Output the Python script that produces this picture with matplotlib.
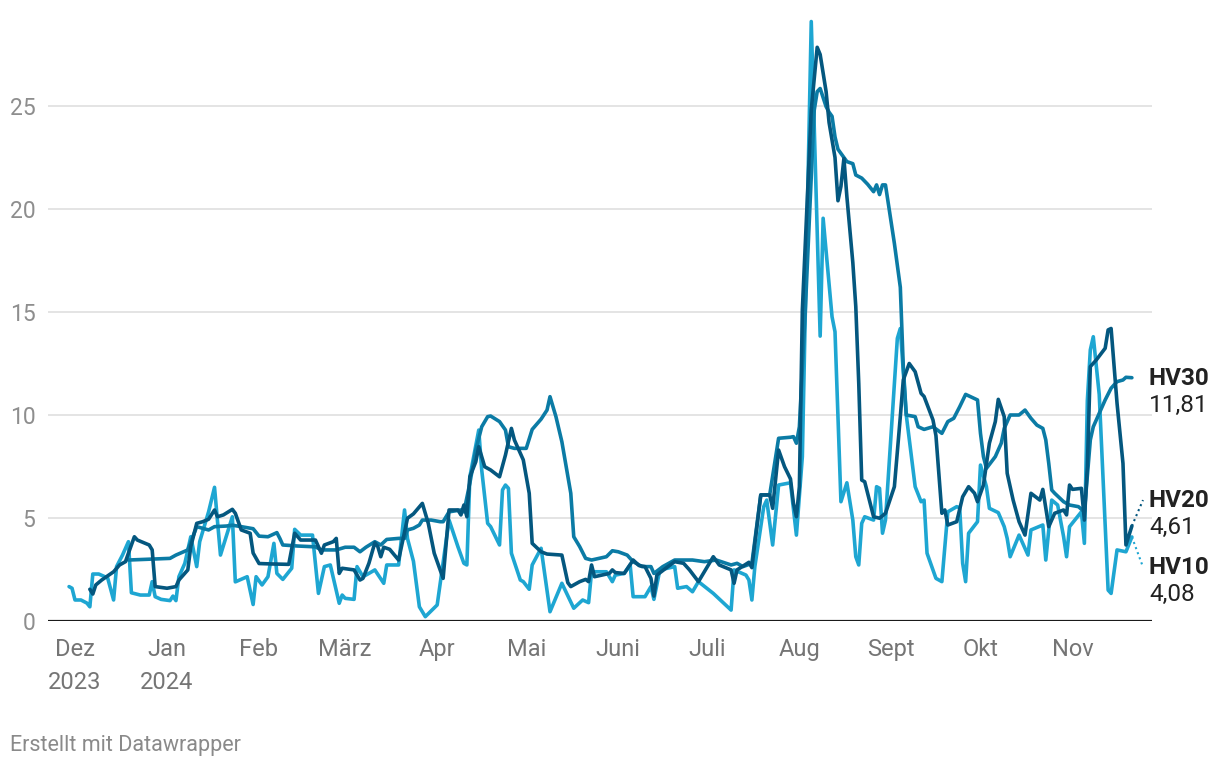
import matplotlib
matplotlib.use("Agg")
import matplotlib.pyplot as plt
import matplotlib.transforms as mtrans
import pandas as pd

plt.rcParams['font.family'] = ['Roboto', 'DejaVu Sans']

# ---------------- data ----------------
hv10_dates = ["2023-11-29","2023-11-30","2023-12-01","2023-12-03","2023-12-05","2023-12-06","2023-12-07","2023-12-09",
"2023-12-12","2023-12-14","2023-12-15","2023-12-17","2023-12-19","2023-12-20","2023-12-23","2023-12-26","2023-12-27",
"2023-12-28","2023-12-30","2024-01-02","2024-01-03","2024-01-04","2024-01-05","2024-01-07","2024-01-09","2024-01-11",
"2024-01-12","2024-01-15","2024-01-17","2024-01-19","2024-01-23","2024-01-24","2024-01-28","2024-01-30","2024-01-31",
"2024-02-02","2024-02-04","2024-02-06","2024-02-07","2024-02-09","2024-02-12","2024-02-13","2024-02-15","2024-02-19",
"2024-02-21","2024-02-23","2024-02-25","2024-02-28","2024-02-29","2024-03-01","2024-03-04","2024-03-05","2024-03-07",
"2024-03-09","2024-03-11","2024-03-14","2024-03-15","2024-03-19","2024-03-21","2024-03-22","2024-03-24","2024-03-26",
"2024-03-28","2024-04-01","2024-04-05","2024-04-08","2024-04-10","2024-04-11","2024-04-12","2024-04-15","2024-04-16",
"2024-04-18","2024-04-19","2024-04-22","2024-04-23","2024-04-24","2024-04-25","2024-04-26","2024-04-29","2024-04-30",
"2024-05-02","2024-05-03","2024-05-06","2024-05-09","2024-05-13","2024-05-17","2024-05-20","2024-05-22","2024-05-23",
"2024-05-28","2024-05-30","2024-05-31","2024-06-03","2024-06-05","2024-06-06","2024-06-10","2024-06-12","2024-06-13",
"2024-06-15","2024-06-20","2024-06-21","2024-06-24","2024-06-26","2024-06-28","2024-07-03","2024-07-09","2024-07-10",
"2024-07-14","2024-07-15","2024-07-16","2024-07-17","2024-07-20","2024-07-21","2024-07-23","2024-07-25","2024-07-29",
"2024-07-31","2024-08-02","2024-08-05","2024-08-08","2024-08-09","2024-08-12","2024-08-13","2024-08-15","2024-08-17",
"2024-08-19","2024-08-20","2024-08-21","2024-08-22","2024-08-23","2024-08-26","2024-08-27","2024-08-28","2024-08-29",
"2024-08-30","2024-09-03","2024-09-04","2024-09-06","2024-09-09","2024-09-11","2024-09-12","2024-09-13","2024-09-16",
"2024-09-18","2024-09-20","2024-09-23","2024-09-24","2024-09-25","2024-09-26","2024-09-27","2024-09-30","2024-10-01",
"2024-10-03","2024-10-04","2024-10-07","2024-10-09","2024-10-10","2024-10-11","2024-10-14","2024-10-17","2024-10-18",
"2024-10-22","2024-10-23","2024-10-25","2024-10-27","2024-10-29","2024-10-30","2024-10-31","2024-11-04","2024-11-05",
"2024-11-06","2024-11-07","2024-11-08","2024-11-10","2024-11-13","2024-11-14","2024-11-16","2024-11-19","2024-11-21"]
hv10_values = [1.67,1.59,1.02,1.02,0.87,0.69,2.28,2.28,
2.09,1.02,2.64,3.2,3.85,1.37,1.26,1.26,1.91,
1.18,1.05,0.99,1.21,0.99,2.15,2.8,4.09,2.64,
3.85,5.3,6.49,3.2,5.06,1.9,2.15,0.8,2.15,
1.75,2.15,3.77,2.31,2.02,2.56,4.45,4.17,4.17,
1.34,2.64,2.72,0.86,1.26,1.1,1.05,2.64,2.15,
2.31,2.48,1.83,2.72,2.72,5.39,4.0,2.9,0.69,
0.21,0.78,4.9,3.6,2.8,2.72,7.0,9.27,7.33,
4.74,4.58,3.69,6.36,6.6,6.44,3.29,1.99,1.91,
1.54,2.72,3.53,0.45,1.83,0.62,1.02,0.89,2.39,
2.39,1.91,2.23,2.31,2.72,1.18,1.18,1.67,1.05,
2.48,2.64,1.59,1.67,1.42,1.91,1.34,0.53,2.48,
2.23,1.99,1.02,2.64,5.55,5.87,3.69,6.6,6.71,
4.17,7.98,29.1,13.83,19.55,14.77,14.04,5.79,6.71,
4.9,3.12,2.72,4.74,5.06,4.9,6.52,6.44,4.26,
4.9,13.72,14.2,10.0,6.52,5.79,5.87,3.29,2.07,
1.91,5.3,5.55,5.5,2.8,1.91,4.26,4.82,7.57,
6.52,5.47,5.26,4.58,4.01,3.12,4.17,3.2,4.42,
4.66,2.96,5.87,5.63,4.09,3.12,4.58,5.3,3.77,
10.7,13.16,13.8,11.0,1.5,1.34,3.45,3.36,4.08]

hv20_dates = ["2023-12-06","2023-12-07","2023-12-08","2023-12-10","2023-12-14","2023-12-16","2023-12-18","2023-12-19",
"2023-12-21","2023-12-22","2023-12-26","2023-12-27","2023-12-28","2024-01-01","2024-01-04","2024-01-05","2024-01-08",
"2024-01-09","2024-01-11","2024-01-13","2024-01-15","2024-01-17","2024-01-18","2024-01-20","2024-01-23","2024-01-24",
"2024-01-26","2024-01-29","2024-01-30","2024-02-01","2024-02-05","2024-02-11","2024-02-13","2024-02-15","2024-02-20",
"2024-02-22","2024-02-23","2024-02-26","2024-02-27","2024-02-28","2024-02-29","2024-03-04","2024-03-06","2024-03-07",
"2024-03-09","2024-03-11","2024-03-12","2024-03-13","2024-03-14","2024-03-16","2024-03-19","2024-03-22","2024-03-24",
"2024-03-27","2024-03-29","2024-03-31","2024-04-03","2024-04-05","2024-04-08","2024-04-09","2024-04-10","2024-04-11",
"2024-04-12","2024-04-14","2024-04-15","2024-04-17","2024-04-19","2024-04-22","2024-04-24","2024-04-26","2024-04-27",
"2024-04-30","2024-05-02","2024-05-03","2024-05-06","2024-05-08","2024-05-13","2024-05-15","2024-05-16","2024-05-19",
"2024-05-21","2024-05-22","2024-05-23","2024-05-24","2024-05-29","2024-05-30","2024-05-31","2024-06-03","2024-06-06",
"2024-06-08","2024-06-10","2024-06-12","2024-06-13","2024-06-14","2024-06-17","2024-06-20","2024-06-23","2024-06-25",
"2024-06-28","2024-07-03","2024-07-05","2024-07-09","2024-07-10","2024-07-11","2024-07-15","2024-07-16","2024-07-19",
"2024-07-22","2024-07-23","2024-07-25","2024-07-27","2024-07-29","2024-07-30","2024-07-31","2024-08-01","2024-08-02",
"2024-08-05","2024-08-07","2024-08-08","2024-08-10","2024-08-11","2024-08-13","2024-08-14","2024-08-15","2024-08-16",
"2024-08-17","2024-08-19","2024-08-20","2024-08-21","2024-08-22","2024-08-23","2024-08-26","2024-08-28","2024-08-30",
"2024-09-02","2024-09-04","2024-09-05","2024-09-07","2024-09-09","2024-09-11","2024-09-12","2024-09-15","2024-09-16",
"2024-09-18","2024-09-19","2024-09-20","2024-09-23","2024-09-25","2024-09-27","2024-09-29","2024-09-30","2024-10-02",
"2024-10-04","2024-10-06","2024-10-07","2024-10-09","2024-10-10","2024-10-12","2024-10-14","2024-10-16","2024-10-18",
"2024-10-21","2024-10-22","2024-10-24","2024-10-26","2024-10-29","2024-10-30","2024-10-31","2024-11-01","2024-11-04",
"2024-11-05","2024-11-06","2024-11-07","2024-11-09","2024-11-12","2024-11-13","2024-11-14","2024-11-16","2024-11-18",
"2024-11-19","2024-11-21"]
hv20_values = [1.54,1.31,1.75,1.99,2.39,2.72,2.88,3.29,
4.09,3.93,3.69,3.45,1.67,1.59,1.67,1.99,2.48,
3.61,4.74,4.82,4.94,5.39,5.06,5.15,5.42,5.23,
4.42,4.26,3.3,2.79,2.77,2.75,4.26,3.93,3.93,
3.29,3.69,3.85,4.01,2.31,2.56,2.48,1.99,2.07,
2.8,3.8,3.61,3.12,3.58,3.48,2.96,4.99,5.2,
5.71,4.74,3.29,2.07,5.39,5.39,5.15,5.63,5.06,
7.0,7.73,8.46,7.49,7.33,7.0,8.06,9.35,8.79,
7.82,6.2,3.77,3.36,3.25,3.2,1.86,1.67,1.91,
2.02,1.91,2.72,2.15,2.31,2.48,2.35,2.31,2.96,
2.69,2.64,2.07,1.21,2.23,2.56,2.88,2.8,2.48,
1.91,3.12,2.72,2.48,1.83,2.48,2.85,2.59,6.12,
6.12,5.47,8.3,7.49,6.9,5.71,5.06,6.52,15.1,
24.8,27.85,27.5,25.7,24.2,22.5,20.4,21.1,22.45,
20.6,17.4,15.26,11.54,6.84,6.76,5.06,4.99,5.23,
6.52,9.92,11.7,12.5,12.1,11.05,10.9,9.76,9.0,
5.23,5.39,4.66,4.82,6.03,6.52,6.2,5.79,6.6,
8.63,9.68,10.76,9.92,7.17,5.87,4.82,4.17,6.2,
5.87,6.39,4.58,5.23,5.39,5.15,6.6,6.39,6.44,
4.9,7.49,12.35,12.67,13.24,14.13,14.2,10.57,7.65,
3.69,4.61]

hv30_dates = ["2023-12-19","2024-01-02","2024-01-04","2024-01-08","2024-01-11","2024-01-15","2024-01-17","2024-01-21",
"2024-01-23","2024-01-26","2024-01-30","2024-02-01","2024-02-04","2024-02-07","2024-02-08","2024-02-09","2024-02-14",
"2024-02-20","2024-02-22","2024-02-27","2024-03-01","2024-03-04","2024-03-06","2024-03-08","2024-03-11","2024-03-13",
"2024-03-15","2024-03-19","2024-03-21","2024-03-22","2024-03-24","2024-03-26","2024-03-27","2024-03-30","2024-04-02",
"2024-04-03","2024-04-05","2024-04-09","2024-04-10","2024-04-12","2024-04-14","2024-04-16","2024-04-18","2024-04-19",
"2024-04-22","2024-04-24","2024-04-25","2024-04-27","2024-05-01","2024-05-03","2024-05-06","2024-05-08","2024-05-09",
"2024-05-11","2024-05-13","2024-05-16","2024-05-17","2024-05-19","2024-05-21","2024-05-23","2024-05-28","2024-05-30",
"2024-06-01","2024-06-04","2024-06-06","2024-06-09","2024-06-12","2024-06-13","2024-06-16","2024-06-20","2024-06-26",
"2024-06-30","2024-07-04","2024-07-09","2024-07-11","2024-07-13","2024-07-16","2024-07-19","2024-07-22","2024-07-25",
"2024-07-29","2024-07-30","2024-07-31","2024-08-01","2024-08-03","2024-08-06","2024-08-07","2024-08-08","2024-08-10",
"2024-08-11","2024-08-12","2024-08-13","2024-08-14","2024-08-16","2024-08-17","2024-08-19","2024-08-20","2024-08-22",
"2024-08-24","2024-08-26","2024-08-27","2024-08-28","2024-08-29","2024-08-30","2024-09-02","2024-09-04","2024-09-05",
"2024-09-06","2024-09-09","2024-09-10","2024-09-12","2024-09-15","2024-09-18","2024-09-20","2024-09-22","2024-09-24",
"2024-09-26","2024-09-30","2024-10-01","2024-10-02","2024-10-03","2024-10-06","2024-10-08","2024-10-09","2024-10-11",
"2024-10-14","2024-10-16","2024-10-18","2024-10-20","2024-10-22","2024-10-23","2024-10-24","2024-10-25","2024-10-26",
"2024-10-29","2024-10-31","2024-11-03","2024-11-05","2024-11-07","2024-11-08","2024-11-10","2024-11-12","2024-11-14",
"2024-11-16","2024-11-18","2024-11-19","2024-11-21"]
hv30_values = [2.96,3.04,3.2,3.45,4.58,4.42,4.58,4.61,
4.65,4.58,4.48,4.12,4.09,4.29,4.01,3.69,3.64,
3.6,3.45,3.45,3.58,3.58,3.36,3.58,3.85,3.69,
3.96,4.01,4.01,4.42,4.5,4.66,4.9,4.9,4.82,
4.82,5.3,5.39,5.3,6.69,8.3,9.43,9.92,9.95,
9.68,9.27,8.46,8.38,8.38,9.3,9.8,10.24,10.89,
9.92,8.7,6.2,4.09,3.61,3.04,2.96,3.12,3.41,
3.36,3.2,2.88,2.64,2.64,2.31,2.64,2.96,2.96,
2.88,2.96,2.72,2.8,2.64,2.8,6.12,6.12,8.87,
8.92,8.95,8.63,9.43,15.1,24.8,25.7,25.85,24.97,
24.7,24.5,23.5,22.9,22.5,22.3,22.2,21.65,21.5,
21.2,20.84,21.17,20.7,21.17,21.17,18.33,16.2,12.35,
10.0,9.92,9.43,9.3,9.43,9.11,9.68,9.84,10.4,
11.0,10.73,9.11,7.98,7.41,7.98,8.63,9.35,10.0,
10.0,10.24,9.84,9.51,9.35,8.79,7.65,6.36,6.2,
5.79,5.63,5.55,5.3,8.79,9.43,10.08,10.73,11.3,
11.62,11.7,11.83,11.81]

series_names = ["HV10", "HV20", "HV30"]
series_colors = {"HV10": "#1ea6d2", "HV20": "#04577f", "HV30": "#0b7ba5"}
series_z = {"HV10": 3, "HV20": 5, "HV30": 4}
label_values = {"HV10": "4,08", "HV20": "4,61", "HV30": "11,81"}
label_y = {"HV10": 2.62, "HV20": 5.87, "HV30": 11.76}   # label anchor heights
month_ticks = ["2023-12-01","2024-01-01","2024-02-01","2024-03-01","2024-04-01","2024-05-01",
               "2024-06-01","2024-07-01","2024-08-01","2024-09-01","2024-10-01","2024-11-01"]
month_labels = ["Dez\n2023","Jan\n2024","Feb","März","Apr","Mai","Juni","Juli","Aug","Sept","Okt","Nov"]
y_ticks = [0, 5, 10, 15, 20, 25]

data = {
    "HV10": (pd.to_datetime(hv10_dates), hv10_values),
    "HV20": (pd.to_datetime(hv20_dates), hv20_values),
    "HV30": (pd.to_datetime(hv30_dates), hv30_values),
}

# ---------------- figure ----------------
W, H = 1220, 768
fig = plt.figure(figsize=(W / 100, H / 100), dpi=100)
ax_l, ax_r, ax_b, ax_t = 48, 1152, 621, 10
ax = fig.add_axes([ax_l / W, (H - ax_b) / H, (ax_r - ax_l) / W, (ax_b - ax_t) / H])

px_per_day = 2.969
x0 = pd.Timestamp("2023-12-01") - pd.Timedelta(days=(75 - ax_l) / px_per_day)
x1 = pd.Timestamp("2024-11-01") + pd.Timedelta(days=(ax_r - 1072.5) / px_per_day)
ax.set_xlim(x0, x1)
ax.set_ylim(0, (ax_b - ax_t) / 20.6)

for s in ax.spines.values():
    s.set_visible(False)

ax.set_yticks(y_ticks)
ax.set_yticklabels([str(v) for v in y_ticks])
ax.yaxis.grid(True, color="#e2e2e2", linewidth=1.3, zorder=0)
ax.set_axisbelow(True)
ax.tick_params(axis="y", length=0, pad=9, labelsize=16.5, labelcolor="#8e8e8e")
ax.axhline(0, color="#1a1a1a", linewidth=2.3, zorder=6)

ax.set_xticks(pd.to_datetime(month_ticks))
ax.set_xticklabels(month_labels, linespacing=1.55)
ax.tick_params(axis="x", length=0, pad=12, labelsize=17, labelcolor="#757575")

for name in series_names:
    d, v = data[name]
    ax.plot(d, v, color=series_colors[name], linewidth=2.6, zorder=series_z[name],
            solid_joinstyle="round", solid_capstyle="round", clip_on=False)

# right-side labels
lab_tr = mtrans.blended_transform_factory(ax.transAxes, ax.transData)
val_tr = mtrans.offset_copy(lab_tr, fig=fig, x=0, y=-27, units="dots")
for name in series_names:
    ax.text(1.0 - 3 / (ax_r - ax_l), label_y[name], name, transform=lab_tr, ha="left", va="center",
            fontsize=17.5, fontweight="bold", color="#222222")
    ax.text(1.0 - 3 / (ax_r - ax_l), label_y[name], label_values[name], transform=val_tr,
            ha="left", va="center", fontsize=17.5, color="#222222")

# dotted connectors for shifted labels
conn_x = x1 - pd.Timedelta(days=(ax_r - 1143) / px_per_day)
for name in ["HV20", "HV10"]:
    d, v = data[name]
    ax.plot([d[-1], conn_x], [v[-1], label_y[name]], color=series_colors[name],
            linewidth=1.5, linestyle=(0, (1, 1.6)), zorder=series_z[name], clip_on=False)

fig.text(10 / W, 1 - 746 / H, "Erstellt mit Datawrapper", ha="left", va="center",
         fontsize=15.5, color="#8a8a8a")

fig.savefig("out.png", dpi=100)
